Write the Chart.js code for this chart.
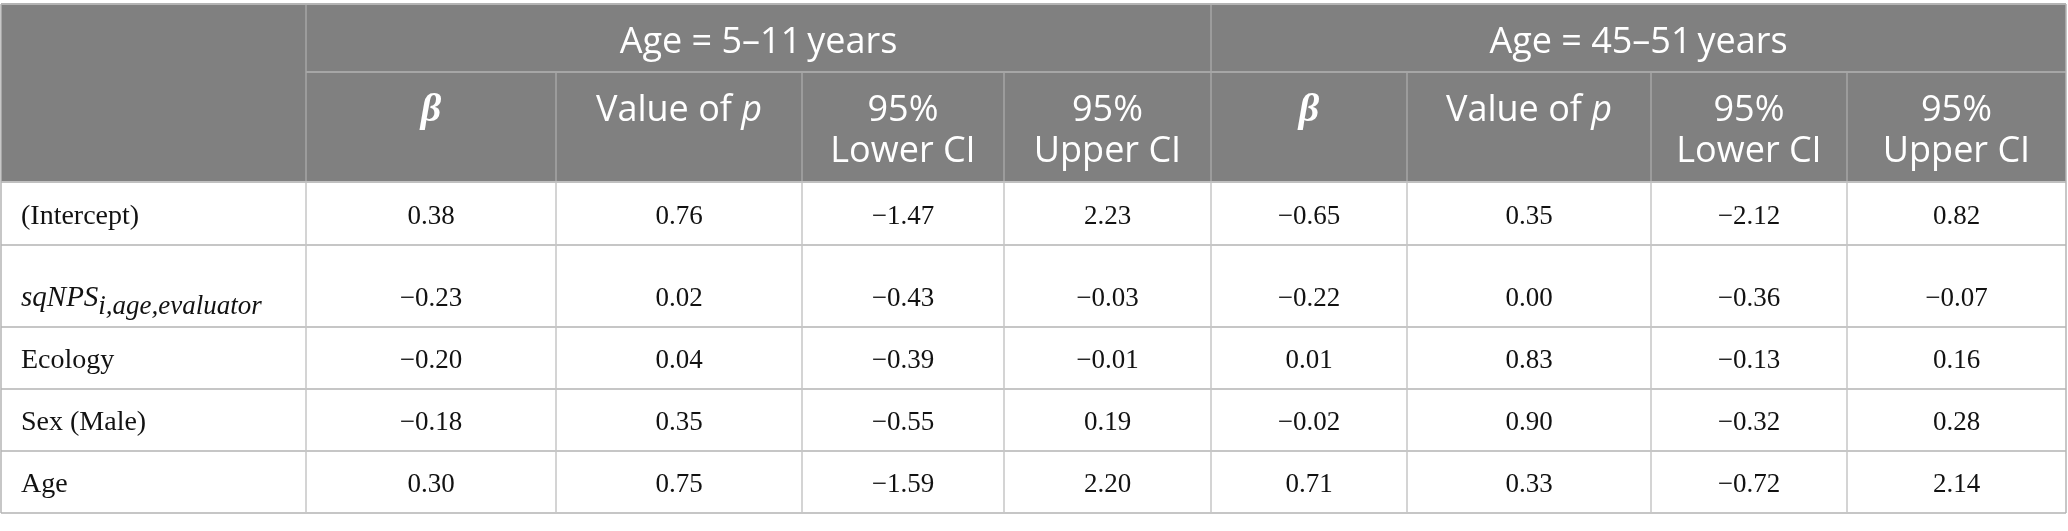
<!DOCTYPE html>
<html>
<head>
<meta charset="utf-8">
<script src="https://cdn.jsdelivr.net/npm/chart.js@4"></script>
<style>
  html, body { margin: 0; padding: 0; background: #fff; }
  #table { display: block; }
</style>
</head>
<body>
<canvas id="table" width="2068" height="531"></canvas>
<script>
// table content
const groups = ["Age = 5\u201311\u2009years", "Age = 45\u201351\u2009years"];
const statHeaders = ["β", "Value of p", "95%\nLower CI", "95%\nUpper CI"];
const rowLabels = ["(Intercept)", "sqNPS", "Ecology", "Sex (Male)", "Age"];

const beta5 = [0.38, -0.23, -0.2, -0.18, 0.3];
const p5 = [0.76, 0.02, 0.04, 0.35, 0.75];
const lower5 = [-1.47, -0.43, -0.39, -0.55, -1.59];
const upper5 = [2.23, -0.03, -0.01, 0.19, 2.2];

const beta45 = [-0.65, -0.22, 0.01, -0.02, 0.71];
const p45 = [0.35, 0.0, 0.83, 0.9, 0.33];
const lower45 = [-2.12, -0.36, -0.13, -0.32, -0.72];
const upper45 = [0.82, -0.07, 0.16, 0.28, 2.14];

const columns = [beta5, p5, lower5, upper5, beta45, p45, lower45, upper45];

// layout of the grid, in table units (x: 0..2068, y: 0..531)
const colEdges = [1, 306, 556, 802, 1004, 1211, 1407, 1651, 1847, 2066];
const rowEdges = [4, 72, 182, 245, 327, 389, 451, 513];

const headFill = "#808080";
const headLine = "#a6a6a6";
const bodyLine = "#c6c6c6";
const sansHead = '36px "Open Sans"';
const sansHeadItalic = 'italic 36px "Open Sans"';
const serifBody = '27px "Liberation Serif"';
const serifLabel = '28px "Liberation Serif"';

function fmt(v) {
  return v.toFixed(2).replace("-", "\u2212");
}

// draw a run of differently styled pieces centred (or left aligned) at x
function drawParts(ctx, parts, x, y, align) {
  let total = 0;
  parts.forEach((p) => {
    ctx.font = p.font;
    total += ctx.measureText(p.text).width;
  });
  let cur = align === "left" ? x : x - total / 2;
  ctx.textAlign = "left";
  parts.forEach((p) => {
    ctx.font = p.font;
    ctx.fillText(p.text, cur, y + (p.dy || 0));
    cur += ctx.measureText(p.text).width;
  });
}

const tablePlugin = {
  id: "tablePlugin",
  afterDraw(chart) {
    const ctx = chart.ctx;
    const xs = chart.scales.x;
    const ys = chart.scales.y;
    const X = (v) => xs.getPixelForValue(v);
    const Y = (v) => ys.getPixelForValue(v);
    const left = colEdges[0];
    const right = colEdges[colEdges.length - 1];
    const bottom = rowEdges[rowEdges.length - 1];

    ctx.save();
    ctx.fillStyle = "#fff";
    ctx.fillRect(0, 0, chart.width, chart.height);

    // header block
    ctx.fillStyle = headFill;
    ctx.fillRect(X(left), Y(rowEdges[0]), X(right) - X(left), Y(rowEdges[2]) - Y(rowEdges[0]));

    function line(x1, y1, x2, y2, color, w) {
      ctx.strokeStyle = color;
      ctx.lineWidth = w;
      ctx.beginPath();
      ctx.moveTo(X(x1), Y(y1));
      ctx.lineTo(X(x2), Y(y2));
      ctx.stroke();
    }

    // header lines
    line(colEdges[1], rowEdges[1], right, rowEdges[1], headLine, 2);
    for (let i = 1; i < colEdges.length - 1; i++) {
      const top = i === 1 || i === 5 ? rowEdges[0] : rowEdges[1];
      line(colEdges[i], top, colEdges[i], rowEdges[2], headLine, 1.5);
    }

    // body lines
    for (let r = 3; r < rowEdges.length; r++) {
      line(left, rowEdges[r], right, rowEdges[r], bodyLine, 2);
    }
    for (let i = 1; i < colEdges.length - 1; i++) {
      line(colEdges[i], rowEdges[2], colEdges[i], bottom, bodyLine, 1.5);
    }

    // outer frame
    line(left, rowEdges[0], right, rowEdges[0], "#b4b4b4", 2);
    line(left, rowEdges[2], right, rowEdges[2], "#c0c0c0", 2);
    line(left, rowEdges[0], left, bottom, "#b4b4b4", 1.5);
    line(right, rowEdges[0], right, bottom, "#b4b4b4", 1.5);

    // header text
    ctx.fillStyle = "#fff";
    ctx.textBaseline = "alphabetic";
    groups.forEach((g, gi) => {
      const cx = (colEdges[1 + gi * 4] + colEdges[5 + gi * 4]) / 2;
      drawParts(ctx, [{ text: g, font: sansHead }], X(cx), Y(rowEdges[1] - 19));
    });
    for (let c = 0; c < 8; c++) {
      const h = statHeaders[c % 4];
      const cx = X((colEdges[c + 1] + colEdges[c + 2]) / 2);
      const y1 = Y(rowEdges[1] + 49);
      if (h === "β") {
        drawParts(ctx, [{ text: h, font: 'bold italic 40px "Liberation Serif"' }], cx, y1);
      } else if (h === "Value of p") {
        drawParts(ctx, [
          { text: "Value of ", font: sansHead },
          { text: "p", font: sansHeadItalic },
        ], cx, y1);
      } else {
        h.split("\n").forEach((t, li) => {
          drawParts(ctx, [{ text: t, font: sansHead }], cx, y1 + li * 41);
        });
      }
    }

    // body text
    ctx.fillStyle = "#121212";
    rowLabels.forEach((lab, r) => {
      const base = Y(rowEdges[r + 3] - 21);
      const lx = X(colEdges[0] + 20);
      if (lab === "sqNPS") {
        drawParts(ctx, [
          { text: "sqNPS", font: 'italic 29px "Liberation Serif"' },
          { text: "i,age,evaluator", font: 'italic 27px "Liberation Serif"', dy: 8 },
        ], lx, base, "left");
      } else {
        drawParts(ctx, [{ text: lab, font: serifLabel }], lx, base, "left");
      }
      columns.forEach((col, c) => {
        const cx = X((colEdges[c + 1] + colEdges[c + 2]) / 2);
        drawParts(ctx, [{ text: fmt(col[r]), font: serifBody }], cx, base);
      });
    });
    ctx.restore();
  },
};

const chart = new Chart(document.querySelector("#table"), {
  type: "scatter",
  data: { datasets: [{ data: [] }] },
  options: {
    responsive: false,
    animation: false,
    layout: { padding: 0 },
    plugins: { legend: { display: false }, tooltip: { enabled: false } },
    scales: {
      x: { type: "linear", min: 0, max: 2068, display: false },
      y: { type: "linear", min: 0, max: 531, reverse: true, display: false },
    },
  },
  plugins: [tablePlugin],
});
</script>
</body>
</html>
